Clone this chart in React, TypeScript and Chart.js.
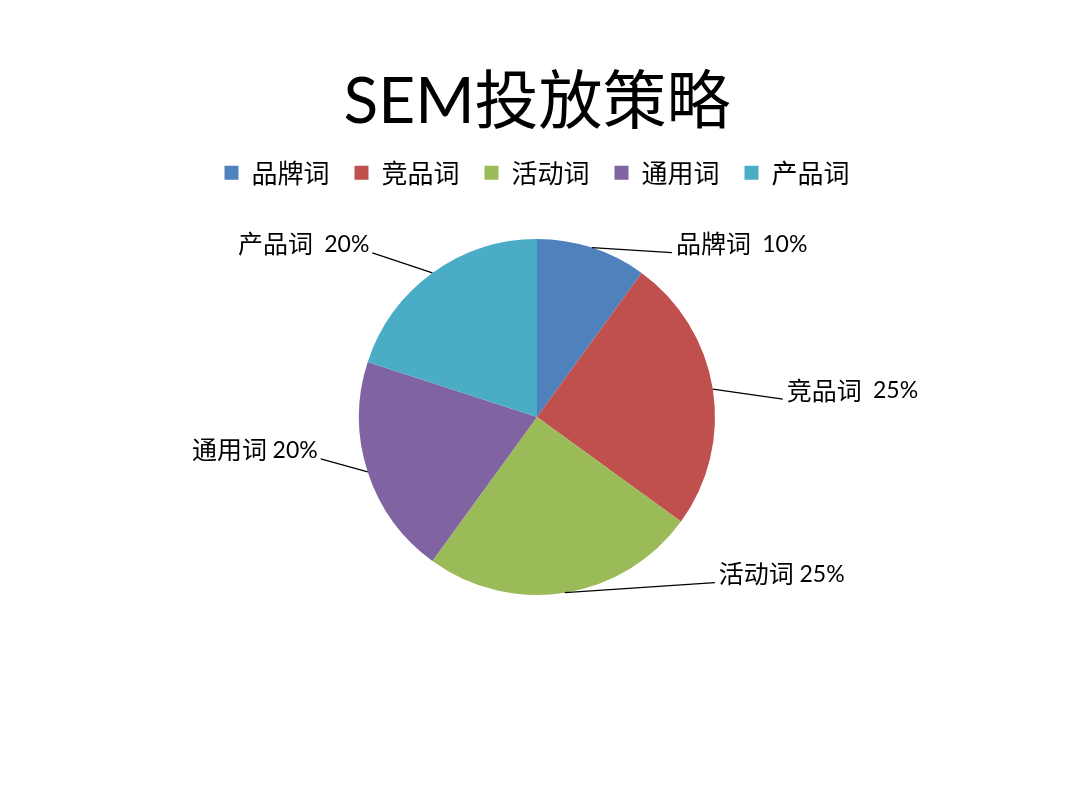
import React, { useEffect, useRef } from "react";
import { Chart, registerables } from "chart.js";

Chart.register(...registerables);

const titleText = "SEM投放策略";
const categories = ["品牌词", "竞品词", "活动词", "通用词", "产品词"];
const shares = [10, 25, 25, 20, 20];
const valueLabels = ["10%", "25%", "25%", "20%", "20%"];
const labelGaps = ["  ", "  ", " ", " ", "  "];
const colors = ["#4F81BD", "#C0504D", "#9BBB59", "#8064A2", "#4BACC6"];

// leader-line offsets (layout, px) from slice edge to label anchor
const leaderOffsets: [number, number][] = [
  [80, 5],
  [70, 10],
  [150, -10],
  [-47, -13],
  [-60, -20],
];

const CJK = "'Noto Sans CJK SC'";
const LATIN = "Lato";

const outsideLabels = {
  id: "outsideLabels",
  afterDraw(chart: any) {
    const ctx = chart.ctx;
    const meta = chart.getDatasetMeta(0);
    ctx.save();
    meta.data.forEach((arc: any, i: number) => {
      const { x, y, startAngle, endAngle, outerRadius } = arc.getProps(
        ["x", "y", "startAngle", "endAngle", "outerRadius"],
        true
      );
      const mid = (startAngle + endAngle) / 2;
      const ex = x + Math.cos(mid) * outerRadius;
      const ey = y + Math.sin(mid) * outerRadius;
      const [dx, dy] = leaderOffsets[i];
      const lx = ex + dx;
      const ly = ey + dy;
      ctx.beginPath();
      ctx.strokeStyle = "#000";
      ctx.lineWidth = 1.3;
      ctx.moveTo(ex, ey);
      ctx.lineTo(lx, ly);
      ctx.stroke();

      const name = categories[i] + labelGaps[i];
      const val = valueLabels[i];
      const nameFont = `25px ${CJK}`;
      const valFont = `23px ${LATIN}`;
      ctx.font = nameFont;
      const nw = ctx.measureText(name).width;
      ctx.font = valFont;
      const vw = ctx.measureText(val).width;
      const total = nw + vw;
      const right = dx >= 0;
      const startX = right ? lx + 4 : lx - 3 - total;
      const ty = ly - 9;
      ctx.fillStyle = "#000";
      ctx.textBaseline = "middle";
      ctx.textAlign = "left";
      ctx.font = nameFont;
      ctx.fillText(name, startX, ty);
      ctx.font = valFont;
      ctx.fillText(val, startX + nw, ty + 1);
    });
    ctx.restore();
  },
};

export default function App() {
  const canvasRef = useRef<HTMLCanvasElement | null>(null);

  useEffect(() => {
    const canvas = canvasRef.current;
    if (!canvas) return;
    const chart = new Chart(canvas, {
      type: "pie",
      data: {
        labels: categories,
        datasets: [
          {
            data: shares,
            backgroundColor: colors,
            borderWidth: 0,
            radius: 178,
          },
        ],
      },
      options: {
        animation: false,
        responsive: true,
        maintainAspectRatio: false,
        devicePixelRatio: 1,
        layout: { padding: { top: 0, left: 0, right: 6, bottom: 172 } },
        plugins: {
          title: {
            display: true,
            text: titleText,
            color: "#000",
            font: { family: `${LATIN}, ${CJK}`, size: 64, weight: "normal", lineHeight: 1.2 },
            padding: { top: 64, bottom: -6 },
          },
          legend: {
            display: true,
            position: "top",
            labels: {
              color: "#000",
              boxWidth: 14,
              boxHeight: 14,
              padding: 25,
              font: { family: CJK, size: 26 },
            },
          },
          tooltip: { enabled: false },
        },
      },
      plugins: [outsideLabels],
    });
    return () => chart.destroy();
  }, []);

  return (
    <div
      style={{
        position: "absolute",
        left: 0,
        top: 0,
        width: 1080,
        height: 810,
        background: "#fff",
      }}
    >
      <canvas ref={canvasRef} />
    </div>
  );
}
